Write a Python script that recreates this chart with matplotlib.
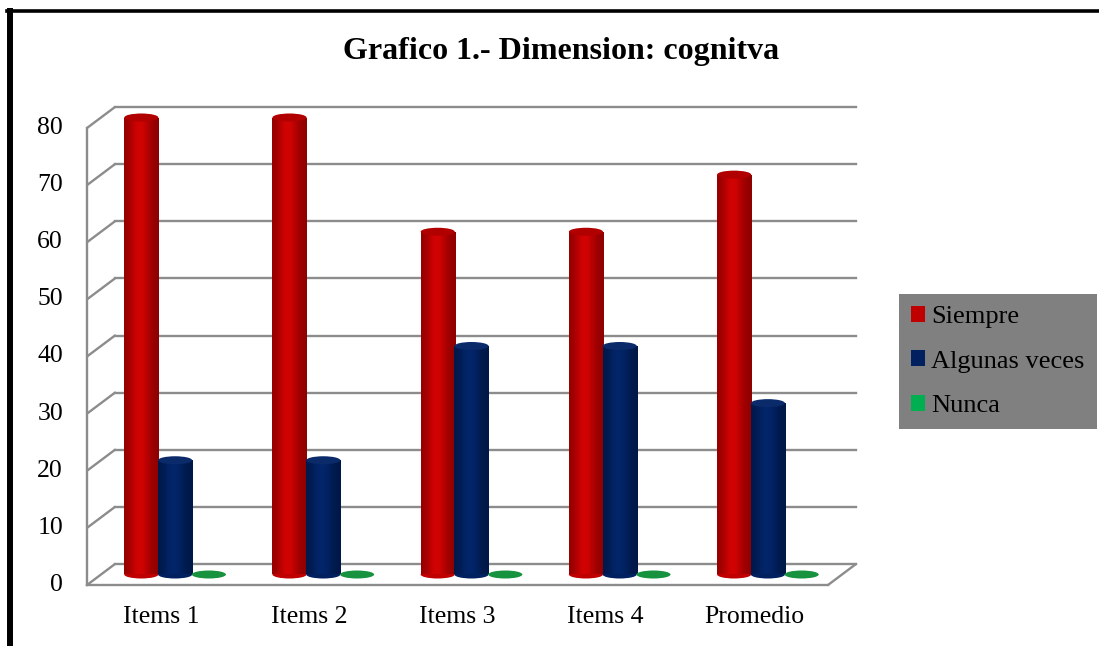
import numpy as np
import matplotlib
matplotlib.use("Agg")
import matplotlib.pyplot as plt
from matplotlib.patches import Ellipse, Patch, ConnectionPatch
from matplotlib.lines import Line2D
from matplotlib.transforms import ScaledTranslation
from matplotlib.colors import to_rgb

plt.rcParams['font.family'] = ['Liberation Serif', 'DejaVu Serif']

# data
categories = ["Items 1", "Items 2", "Items 3", "Items 4", "Promedio"]
siempre = [80, 80, 60, 60, 70]
algunas = [20, 20, 40, 40, 30]
nunca = [0, 0, 0, 0, 0]
series_names = ["Siempre", "Algunas veces", "Nunca"]
series_colors = ["#C00000", "#002060", "#00B050"]
top_colors = ["#B00000", "#0B2A6A", "#17923F"]
yticks = list(range(0, 81, 10))

fig = plt.figure(figsize=(10.99, 6.46), dpi=100)
W, H = 1099, 646
# axes = front plane of the 3D box
ax = fig.add_axes([87 / W, 61 / H, 741 / W, 457 / H])
ax.set_xlim(-0.5, len(categories) - 0.5)
ax.set_ylim(0, 80)
ax.axis("off")

back = ax.transData + ScaledTranslation(0.28, 0.21, fig.dpi_scale_trans)
mid = ax.transData + ScaledTranslation(0.14, 0.105, fig.dpi_scale_trans)

gcol = "#8C8C8C"
grid_kw = dict(color=gcol, lw=1.7, clip_on=False)
x0, x1 = -0.5, len(categories) - 0.5

# back wall grid lines and left wall diagonals
for v in yticks:
    ax.plot([x0, x1], [v, v], transform=back, zorder=1, **grid_kw)
    fig.add_artist(ConnectionPatch((x0, v), (x0, v), coordsA=ax.transData, coordsB=back,
                                   color=gcol, lw=1.7, zorder=1))
# left front edge
ax.plot([x0, x0], [0, 80], zorder=1, **grid_kw)
# floor front edge and right diagonal
ax.plot([x0, x1], [0, 0], zorder=1, **grid_kw)
fig.add_artist(ConnectionPatch((x1, 0), (x1, 0), coordsA=ax.transData, coordsB=back,
                               color=gcol, lw=1.7, zorder=1))


def shade(color, n=64):
    # horizontal light profile of a cylinder
    t = np.linspace(0, 1, n)
    prof = 0.74 + 0.34 * np.exp(-((t - 0.45) / 0.3) ** 2)
    c = np.array(to_rgb(color))
    rgb = np.clip(c[None, :] * prof[:, None] + 0.03 * (prof[:, None] - 0.74), 0, 1)
    return rgb[None, :, :]


width = 0.23
offsets = [-0.228, 0.0, 0.228]
xs = np.arange(len(categories))
cap_h = 1.4
for vals, col, topc, off in zip([siempre, algunas, nunca], series_colors, top_colors, offsets):
    bars = ax.bar(xs + off, vals, width, color="none", transform=mid, zorder=3)
    for r in bars:
        bx, bw, bh = r.get_x(), r.get_width(), r.get_height()
        cx = bx + bw / 2
        if bh > 0:
            ax.add_patch(Ellipse((cx, 0), bw, cap_h, facecolor=col, edgecolor="none",
                                 transform=mid, zorder=3, clip_on=False))
            im = ax.imshow(shade(col), extent=(bx, bx + bw, 0, bh), aspect="auto",
                           transform=mid, zorder=3, interpolation="bilinear")
            im.set_clip_path(r)
            ax.add_patch(Ellipse((cx, bh), bw, cap_h, facecolor=topc, edgecolor="none",
                                 transform=mid, zorder=4, clip_on=False))
        else:
            ax.add_patch(Ellipse((cx, 0), bw, cap_h, facecolor=topc, edgecolor="none",
                                 transform=mid, zorder=4, clip_on=False))

ax.set_xlim(x0, x1)
ax.set_ylim(0, 80)

# tick labels
for v in yticks:
    ax.annotate(str(v), (x0, v), xytext=(-24, 0), textcoords="offset pixels",
                ha="right", va="center", fontsize=18.5, annotation_clip=False)
for i, c in enumerate(categories):
    ax.annotate(c, (i, 0), xytext=(0, -32), textcoords="offset pixels",
                ha="center", va="center", fontsize=18.5, annotation_clip=False)

fig.text(561 / W, 1 - 52 / H, "Grafico 1.- Dimension: cognitva", ha="center", va="center",
         fontsize=23, fontweight="bold")

handles = [Patch(facecolor=c, edgecolor="none") for c in series_colors]
leg = fig.legend(handles, series_names, loc="center left",
                 bbox_to_anchor=(899 / W, 1 - 429 / H, 198 / W, 135 / H), mode="expand",
                 fontsize=19, frameon=True, fancybox=False, handlelength=0.55,
                 handleheight=0.55, handletextpad=0.22, labelspacing=0.85,
                 borderpad=0.45, borderaxespad=0)
leg.get_frame().set_facecolor("#808080")
leg.get_frame().set_edgecolor("none")
leg.get_frame().set_alpha(1)

# outer black border (left and top)
fig.add_artist(Line2D([9.7 / W, 9.7 / W], [0, 1 - 10.6 / H], color="black", lw=4.3,
                      transform=fig.transFigure))
fig.add_artist(Line2D([7 / W, 1], [1 - 10.6 / H, 1 - 10.6 / H], color="black", lw=2.6,
                      transform=fig.transFigure))

fig.savefig("out.png", dpi=100)
